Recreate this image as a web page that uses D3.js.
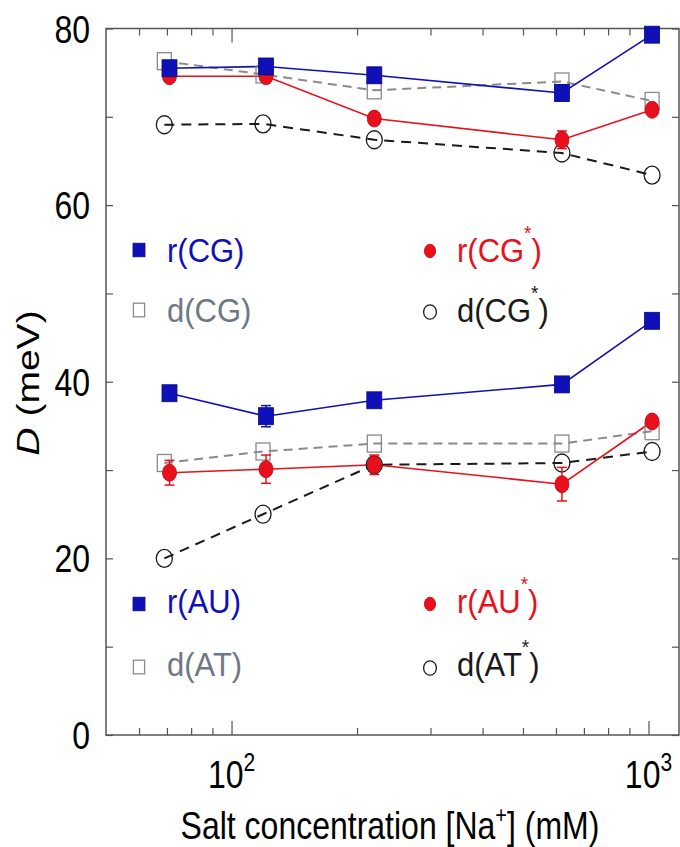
<!DOCTYPE html>
<html>
<head>
<meta charset="utf-8">
<script src="https://cdn.jsdelivr.net/npm/d3@7"></script>
<style>
html,body{margin:0;padding:0;background:#fff;}
svg{display:block;font-family:"Liberation Sans",Arial,Helvetica,sans-serif;}
</style>
</head>
<body>
<svg id="chart" width="680" height="847"></svg>
<script>
// ---- data ----
const saltR = [71, 121, 220, 620, 1020];
const saltD = [69, 119, 220, 620, 1020];

const rCG      = [75.5, 75.7, 74.7, 72.7, 79.3];
const rCGErr   = [0.5, 0.7, 0.6, 0.9, 0.5];
const rCGs     = [74.6, 74.6, 69.8, 67.4, 70.8];
const rCGsErr  = [0.4, 0.4, 0.6, 1.0, 0.5];
const dCG      = [76.3, 74.8, 73.0, 74.0, 71.8];
const dCGs     = [69.1, 69.2, 67.4, 65.9, 63.4];

const rAU      = [38.7, 36.1, 37.9, 39.7, 46.9];
const rAUErr   = [0.5, 1.2, 0.5, 0.5, 0.5];
const rAUs     = [29.7, 30.1, 30.6, 28.4, 35.5];
const rAUsErr  = [1.4, 1.6, 1.1, 1.9, 0.6];
const dAT      = [30.8, 32.1, 33.0, 33.0, 34.4];
const dATs     = [20.0, 25.0, 30.6, 30.8, 32.1];

const yTicks = [0, 20, 40, 60, 80];
const yMinor = [10, 30, 50, 70];
const xMajor = [100, 1000];
const xMajorLabels = [["10", "2"], ["10", "3"]];
const xMinor = [60, 70, 80, 90, 200, 300, 400, 500, 600, 700, 800, 900];

// ---- styles ----
const BLUE = "#1010b8", RED = "#e8101c", GRAY = "#8a8a8a", BLACK = "#1a1a1a";
const styles = {
  rCG:  {color: BLUE, marker: "fsquare", dash: null, width: 1.6, text: BLUE},
  rCGs: {color: RED, marker: "fcircle", dash: null, width: 1.6, text: RED},
  dCG:  {color: GRAY, marker: "osquare", dash: "9,6", width: 2, text: "#6e7884"},
  dCGs: {color: BLACK, marker: "ocircle", dash: "10,7", width: 2, text: BLACK}
};

const series = [
  {x: saltD, y: dCGs, err: null, s: styles.dCGs},
  {x: saltD, y: dATs, err: null, s: styles.dCGs},
  {x: saltD, y: dCG, err: null, s: styles.dCG},
  {x: saltD, y: dAT, err: null, s: styles.dCG},
  {x: saltR, y: rCGs, err: rCGsErr, s: styles.rCGs},
  {x: saltR, y: rAUs, err: rAUsErr, s: styles.rCGs},
  {x: saltR, y: rCG, err: rCGErr, s: styles.rCG},
  {x: saltR, y: rAU, err: rAUErr, s: styles.rCG}
];

const legend = [
  {x: 139, y: 250, tx: 167, ty: 262, name: "r(CG", star: false, s: styles.rCG},
  {x: 430, y: 251, tx: 457, ty: 262, name: "r(CG", star: true, s: styles.rCGs},
  {x: 139, y: 310, tx: 167, ty: 322, name: "d(CG", star: false, s: styles.dCG},
  {x: 430, y: 312, tx: 457, ty: 322, name: "d(CG", star: true, s: styles.dCGs},
  {x: 139, y: 604, tx: 167, ty: 613, name: "r(AU", star: false, s: styles.rCG},
  {x: 430, y: 604, tx: 457, ty: 613, name: "r(AU", star: true, s: styles.rCGs},
  {x: 139, y: 667, tx: 167, ty: 676, name: "d(AT", star: false, s: styles.dCG},
  {x: 430, y: 668, tx: 457, ty: 676, name: "d(AT", star: true, s: styles.dCGs}
];

// ---- scales ----
const L = 106, R = 680, T = 28.5, B = 735;
const x = d3.scaleLog().domain([50, 1190]).range([L, R]);
const y = d3.scaleLinear().domain([0, 80]).range([B, T]);
const STRETCH = 1.22; // reference glyphs are vertically stretched

const svg = d3.select("#chart");
const axisColor = "#555";

function styleAxis(g) {
  g.select(".domain").remove();
  g.selectAll(".tick line").attr("stroke", axisColor).attr("stroke-width", 1.2);
}
svg.append("g").attr("transform", `translate(0,${B})`)
  .call(d3.axisBottom(x).tickValues(xMinor).tickSize(-7).tickFormat("")).call(styleAxis);
svg.append("g").attr("transform", `translate(0,${B})`)
  .call(d3.axisBottom(x).tickValues(xMajor).tickSize(-14).tickFormat("")).call(styleAxis);
svg.append("g").attr("transform", `translate(0,${T})`)
  .call(d3.axisTop(x).tickValues(xMinor).tickSize(-7).tickFormat("")).call(styleAxis);
svg.append("g").attr("transform", `translate(0,${T})`)
  .call(d3.axisTop(x).tickValues(xMajor).tickSize(-14).tickFormat("")).call(styleAxis);

svg.append("g").attr("transform", `translate(${L},0)`)
  .call(d3.axisLeft(y).tickValues(yMinor).tickSize(-7).tickFormat("")).call(styleAxis);
const yAx = svg.append("g").attr("transform", `translate(${L},0)`)
  .call(d3.axisLeft(y).tickValues(yTicks).tickSize(-7).tickFormat(""));
yAx.call(styleAxis);
svg.append("g").attr("transform", `translate(${R - 1},0)`)
  .call(d3.axisRight(y).tickValues(yTicks.concat(yMinor)).tickSize(-7).tickFormat("")).call(styleAxis);

// y tick labels (stretched vertically like the reference)
const yl = svg.append("g");
yTicks.forEach(v => {
  yl.append("text").attr("transform", `translate(${L - 16},${y(v)}) scale(1,${STRETCH})`)
    .attr("text-anchor", "end").attr("dy", "0.36em").attr("font-size", 32).attr("fill", "#000")
    .text(d3.format("d")(v));
});

// x major labels
const xl = svg.append("g");
xMajor.forEach((v, i) => {
  const t = xl.append("text").attr("transform", `translate(${x(v)},788) scale(1,${STRETCH})`)
    .attr("text-anchor", "middle").attr("font-size", 32).attr("fill", "#000");
  t.append("tspan").text(xMajorLabels[i][0]);
  t.append("tspan").attr("font-size", 21).attr("dy", -14).text(xMajorLabels[i][1]);
});

// frame
svg.append("rect").attr("x", L).attr("y", T).attr("width", R - 1 - L).attr("height", B - T)
  .attr("fill", "none").attr("stroke", axisColor).attr("stroke-width", 1.5);

// axis titles
const xt = svg.append("text").attr("transform", `translate(390,839) scale(1,${STRETCH})`)
  .attr("text-anchor", "middle").attr("font-size", 32).attr("fill", "#000");
xt.append("tspan").text("Salt concentration [Na");
xt.append("tspan").attr("font-size", 20).attr("dy", -13).text("+");
xt.append("tspan").attr("dy", 13).text("] (mM)");

const yt = svg.append("text").attr("transform", `translate(39,383) rotate(-90) scale(${STRETCH},1)`)
  .attr("text-anchor", "middle").attr("font-size", 32).attr("fill", "#000");
yt.append("tspan").attr("font-style", "italic").text("D");
yt.append("tspan").text(" (meV)");

// marker drawing
function drawMarker(g, type, cx, cy, color, scale) {
  const k = scale || 1;
  if (type === "fsquare") {
    g.append("rect").attr("x", cx - 7.5 * k).attr("y", cy - 8.5 * k).attr("width", 15 * k).attr("height", 17 * k)
      .attr("fill", color).attr("stroke", "#0a0a80").attr("stroke-width", 0.8);
  } else if (type === "fcircle") {
    g.append("ellipse").attr("cx", cx).attr("cy", cy).attr("rx", 7 * k).attr("ry", 8.5 * k)
      .attr("fill", color).attr("stroke", "#c00010").attr("stroke-width", 0.8);
  } else if (type === "osquare") {
    g.append("rect").attr("x", cx - 7 * k).attr("y", cy - 8.5 * k).attr("width", 14 * k).attr("height", 17 * k)
      .attr("fill", "none").attr("stroke", color).attr("stroke-width", 1.3);
  } else if (type === "ocircle") {
    g.append("ellipse").attr("cx", cx).attr("cy", cy).attr("rx", 8 * k).attr("ry", 9 * k)
      .attr("fill", "none").attr("stroke", color).attr("stroke-width", 1.3);
  }
}

const plot = svg.append("g");
const line = d3.line();
series.forEach(sr => {
  const pts = sr.x.map((xv, i) => [x(xv), y(sr.y[i])]);
  plot.append("path").attr("d", line(pts)).attr("fill", "none")
    .attr("stroke", sr.s.color).attr("stroke-width", sr.s.width)
    .attr("stroke-dasharray", sr.s.dash);
});
series.forEach(sr => {
  const g = plot.append("g");
  sr.x.forEach((xv, i) => {
    const cx = x(xv), cy = y(sr.y[i]);
    if (sr.err) {
      const y0 = y(sr.y[i] - sr.err[i]), y1 = y(sr.y[i] + sr.err[i]);
      g.append("line").attr("x1", cx).attr("x2", cx).attr("y1", y0).attr("y2", y1)
        .attr("stroke", sr.s.color).attr("stroke-width", 1.5);
      [y0, y1].forEach(yy => g.append("line").attr("x1", cx - 5).attr("x2", cx + 5)
        .attr("y1", yy).attr("y2", yy).attr("stroke", sr.s.color).attr("stroke-width", 1.5));
    }
    drawMarker(g, sr.s.marker, cx, cy, sr.s.color);
  });
});

// legends
const lg = svg.append("g");
legend.forEach(it => {
  drawMarker(lg, it.s.marker, it.x, it.y, it.s.color, 0.8);
  const t = lg.append("text").attr("transform", `translate(${it.tx},${it.ty}) scale(1,1.08)`)
    .attr("font-size", 31).attr("fill", it.s.text);
  t.append("tspan").text(it.name);
  if (it.star) {
    t.append("tspan").attr("font-size", 19).attr("dy", -20).text("*");
    t.append("tspan").attr("dy", 20).text(")");
  } else {
    t.append("tspan").text(")");
  }
});
</script>
</body>
</html>
